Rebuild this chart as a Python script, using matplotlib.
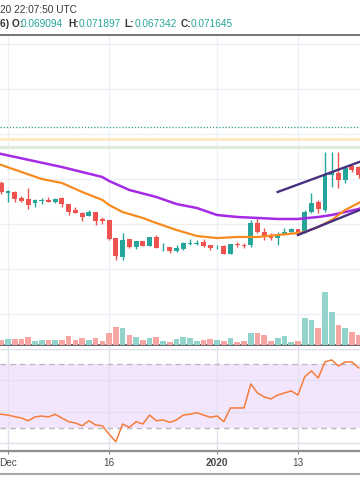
import pandas as pd
import matplotlib
matplotlib.use('Agg')
import matplotlib.pyplot as plt
import matplotlib.dates as mdates
from matplotlib.lines import Line2D

plt.rcParams['font.family'] = ['Liberation Sans', 'DejaVu Sans']

# daily candles, first one is 2019-11-30
start = '2019-11-30'
opens = [0.06956, 0.06844, 0.06856, 0.06789, 0.06778, 0.06733, 0.06756, 0.06767, 0.06744, 0.06789,
         0.06722, 0.06656, 0.06622, 0.06589, 0.06633, 0.06556, 0.06544, 0.06344, 0.06133, 0.06333,
         0.06244, 0.06311, 0.06256, 0.06356, 0.06239, 0.06244, 0.06200, 0.06222, 0.06283, 0.06283,
         0.06300, 0.06267, 0.06239, 0.06256, 0.06167, 0.06278, 0.06272, 0.06267, 0.06511, 0.06411,
         0.06378, 0.06344, 0.06389, 0.06411, 0.06444, 0.06411, 0.06633, 0.06744, 0.06656, 0.07044,
         0.07067, 0.06989, 0.07144, 0.07133]
highs = [0.06978, 0.06878, 0.06867, 0.06811, 0.06900, 0.06778, 0.06789, 0.06800, 0.06789, 0.06800,
         0.06722, 0.06689, 0.06633, 0.06656, 0.06633, 0.06578, 0.06544, 0.06344, 0.06400, 0.06333,
         0.06311, 0.06311, 0.06356, 0.06378, 0.06289, 0.06244, 0.06267, 0.06300, 0.06333, 0.06322,
         0.06333, 0.06267, 0.06267, 0.06267, 0.06278, 0.06300, 0.06289, 0.06544, 0.06567, 0.06456,
         0.06400, 0.06411, 0.06456, 0.06456, 0.06444, 0.06656, 0.06844, 0.06767, 0.07300, 0.07300,
         0.07300, 0.07144, 0.07156, 0.07144]
lows = [0.06833, 0.06744, 0.06744, 0.06744, 0.06667, 0.06689, 0.06722, 0.06744, 0.06733, 0.06689,
        0.06600, 0.06622, 0.06533, 0.06589, 0.06489, 0.06500, 0.06322, 0.06100, 0.06100, 0.06233,
        0.06222, 0.06256, 0.06256, 0.06233, 0.06200, 0.06178, 0.06189, 0.06211, 0.06267, 0.06267,
        0.06244, 0.06211, 0.06222, 0.06167, 0.06167, 0.06244, 0.06233, 0.06244, 0.06400, 0.06322,
        0.06322, 0.06267, 0.06378, 0.06400, 0.06389, 0.06400, 0.06622, 0.06622, 0.06633, 0.06911,
        0.06900, 0.06956, 0.07078, 0.07011]
closes = [0.06856, 0.06867, 0.06778, 0.06756, 0.06711, 0.06767, 0.06767, 0.06744, 0.06778, 0.06722,
          0.06633, 0.06622, 0.06578, 0.06633, 0.06533, 0.06533, 0.06333, 0.06144, 0.06322, 0.06244,
          0.06311, 0.06256, 0.06356, 0.06233, 0.06250, 0.06200, 0.06233, 0.06289, 0.06294, 0.06294,
          0.06256, 0.06233, 0.06250, 0.06167, 0.06278, 0.06267, 0.06256, 0.06511, 0.06411, 0.06356,
          0.06344, 0.06389, 0.06411, 0.06444, 0.06400, 0.06633, 0.06733, 0.06667, 0.07044, 0.07078,
          0.06989, 0.07122, 0.07100, 0.07044]
volumes = [50, 60, 60, 60, 80, 40, 50, 50, 50, 50, 90, 50, 70, 50, 70, 40, 120, 180, 170, 100,
           80, 50, 70, 80, 40, 30, 60, 80, 70, 40, 50, 60, 50, 40, 70, 30, 40, 120, 120, 100,
           40, 70, 90, 30, 40, 270, 250, 170, 530, 330, 200, 170, 130, 100]

# RSI 14, first value is 2019-11-29
rsi_start = '2019-11-29'
rsi = [38.0, 38.4, 37.9, 36.9, 36.0, 34.3, 36.7, 37.3, 36.7, 38.4, 36.0, 33.7, 32.9, 31.1, 34.3,
       31.6, 31.1, 25.7, 21.0, 32.2, 30.1, 33.7, 32.2, 37.9, 34.3, 34.8, 33.3, 34.8, 37.9, 38.4,
       39.4, 37.9, 36.5, 37.3, 33.7, 42.4, 42.4, 42.4, 57.6, 51.9, 49.4, 48.1, 50.6, 51.9, 53.2,
       50.6, 62.1, 65.9, 61.4, 71.6, 72.9, 69.0, 71.6, 71.6, 67.8]

# moving averages
ma_slow_dates = ['2019-11-29', '2019-11-30', '2019-12-09', '2019-12-15', '2019-12-16', '2019-12-19',
                 '2019-12-23', '2019-12-26', '2019-12-29', '2020-01-01', '2020-01-04', '2020-01-07',
                 '2020-01-10', '2020-01-13', '2020-01-16', '2020-01-18', '2020-01-20', '2020-01-22',
                 '2020-01-23']
ma_slow = [0.07294, 0.07278, 0.07133, 0.07022, 0.06978, 0.06878, 0.06800, 0.06722, 0.06678, 0.06600,
           0.06578, 0.06567, 0.06556, 0.06556, 0.06578, 0.06600, 0.06633, 0.06667, 0.06700]
ma_fast_dates = ['2019-11-29', '2019-11-30', '2019-12-03', '2019-12-06', '2019-12-09', '2019-12-12',
                 '2019-12-15', '2019-12-16', '2019-12-18', '2019-12-21', '2019-12-23', '2019-12-26',
                 '2019-12-29', '2020-01-01', '2020-01-04', '2020-01-07', '2020-01-10', '2020-01-13',
                 '2020-01-14', '2020-01-16', '2020-01-18', '2020-01-20', '2020-01-22', '2020-01-23']
ma_fast = [0.07178, 0.07156, 0.07078, 0.07000, 0.06956, 0.06856, 0.06767, 0.06711, 0.06633, 0.06567,
           0.06511, 0.06433, 0.06367, 0.06344, 0.06356, 0.06356, 0.06378, 0.06400, 0.06411, 0.06467,
           0.06544, 0.06656, 0.06733, 0.06778]

# drawn channel
chan_top_dates = ['2020-01-10', '2020-01-23']
chan_top = [0.06856, 0.07214]
chan_bot_dates = ['2020-01-13', '2020-01-23']
chan_bot = [0.06378, 0.06681]

level_dotted = 0.07578
level_orange = 0.07444
level_green = 0.07356

header_time = '20 22:07:50 UTC'
ohlc_names = ['6) O:', 'H:', 'L:', 'C:']
ohlc_values = ['0.069094', '0.071897', '0.067342', '0.071645']

tick_dates = ['2019-12-01', '2019-12-16', '2020-01-01', '2020-01-13']
tick_labels = ['Dec', '16', '2020', '13']

UP = '#26a69a'
DOWN = '#ef5350'
GRID = '#edf0f5'

H = 504.0
def rect(top, bottom):
    return [0, 1 - bottom / H, 1, (bottom - top) / H]

fig = plt.figure(figsize=(3.6, 5.04), dpi=100)
ax = fig.add_axes(rect(36, 345))
axv = fig.add_axes(rect(36, 345), sharex=ax)
axr = fig.add_axes(rect(346, 451), sharex=ax)
axv.patch.set_visible(False)

dates = mdates.date2num(pd.date_range(start, periods=len(opens)))
ticks = mdates.date2num(pd.to_datetime(tick_dates))

# candles
for x, o, h, l, c in zip(dates, opens, highs, lows, closes):
    col = UP if c >= o else DOWN
    ax.vlines(x, l, h, color=col, lw=1, zorder=3)
    ax.bar(x, max(abs(c - o), 0.00008), bottom=min(o, c), width=0.72, color=col, lw=0, zorder=4)

ax.plot(mdates.date2num(pd.to_datetime(ma_slow_dates)), ma_slow, color='#a52ae6', lw=1.8, zorder=5)
ax.plot(mdates.date2num(pd.to_datetime(ma_fast_dates)), ma_fast, color='#f68b1f', lw=1.6, zorder=5)
ax.plot(mdates.date2num(pd.to_datetime(chan_top_dates)), chan_top, color='#47307f', lw=1.7, zorder=6)
ax.plot(mdates.date2num(pd.to_datetime(chan_bot_dates)), chan_bot, color='#47307f', lw=1.7, zorder=6)

ax.axhline(level_dotted, color='#2e9e8e', ls=(0, (1, 1.5)), lw=0.9, zorder=2)
ax.axhline(level_orange, color='#fde8c8', lw=2.2, zorder=2)
ax.axhline(level_green, color='#dfeadb', lw=2.2, zorder=2)

ax.set_ylim(0.051556, 0.085889)
ax.set_yticks([0.055, 0.060, 0.065, 0.070, 0.075, 0.080, 0.085])
ax.set_xlim(mdates.date2num(pd.Timestamp('2019-12-01')) - 1.18,
            mdates.date2num(pd.Timestamp('2019-12-01')) + 52.2)

# volume
vcols = ['#92d4cc' if c >= o else '#f7a6a4' for o, c in zip(opens, closes)]
axv.bar(dates, volumes, width=0.84, color=vcols, lw=0)
axv.set_ylim(0, 3090)

# rsi pane
rsi_x = mdates.date2num(pd.date_range(rsi_start, periods=len(rsi)))
axr.axhspan(30, 70, color='#f3e6fc', lw=0, zorder=0)
axr.axhline(70, color='#b9b9c2', ls=(0, (4, 3)), lw=1, zorder=2)
axr.axhline(30, color='#b9b9c2', ls=(0, (4, 3)), lw=1, zorder=2)
axr.plot(rsi_x, rsi, color='#f57c3a', lw=1.1, zorder=4)
axr.set_ylim(15.1, 81.7)
axr.set_yticks([20, 40, 60, 80])

for a in (ax, axr):
    a.grid(True, color=GRID, lw=1, zorder=1)
    a.set_axisbelow(True)
axv.grid(False)
for a in (ax, axv, axr):
    a.set_xticks(ticks)
    for s in a.spines.values():
        s.set_visible(False)
    a.tick_params(left=False, labelleft=False, right=False, labelright=False)
ax.tick_params(bottom=False, labelbottom=False)
axv.tick_params(bottom=False, labelbottom=False)
axv.set_yticks([])
axr.grid(True, axis='both', color='#e3e0ee', lw=1)

ax.spines['bottom'].set_visible(True)
ax.spines['bottom'].set_color('#5a5d66')
ax.spines['bottom'].set_linewidth(1.3)
axr.spines['bottom'].set_visible(True)
axr.spines['bottom'].set_color('#8e8e8e')
axr.spines['bottom'].set_linewidth(1.6)
axr.set_xticklabels(tick_labels)
axr.tick_params(axis='x', length=2.5, width=0.8, color='#8e8e8e', pad=2.2,
                labelsize=7.2, labelcolor='#4a4a4a')
axr.get_xticklabels()[2].set_fontweight('bold')

fig.add_artist(Line2D([0, 1], [1 - 35 / H] * 2, color='#5c5c5c', lw=1.2))
fig.add_artist(Line2D([0, 1], [1 - 474 / H] * 2, color='#a9a9a9', lw=1.5))

fig.text(0, 1 - 10 / H, header_time, va='center', ha='left', fontsize=7.3, color='#3a3a3a')
name_x = [0, 68, 124, 181]
val_x = [21, 79, 135, 191]
for nx_, vx, n, v in zip(name_x, val_x, ohlc_names, ohlc_values):
    fig.text(nx_ / 360, 1 - 24 / H, n, va='center', ha='left', fontsize=7.3,
             color='#333333', fontweight='bold')
    fig.text(vx / 360, 1 - 24 / H, v, va='center', ha='left', fontsize=7.3, color=UP)

fig.savefig('out.png', dpi=100, facecolor='white')
